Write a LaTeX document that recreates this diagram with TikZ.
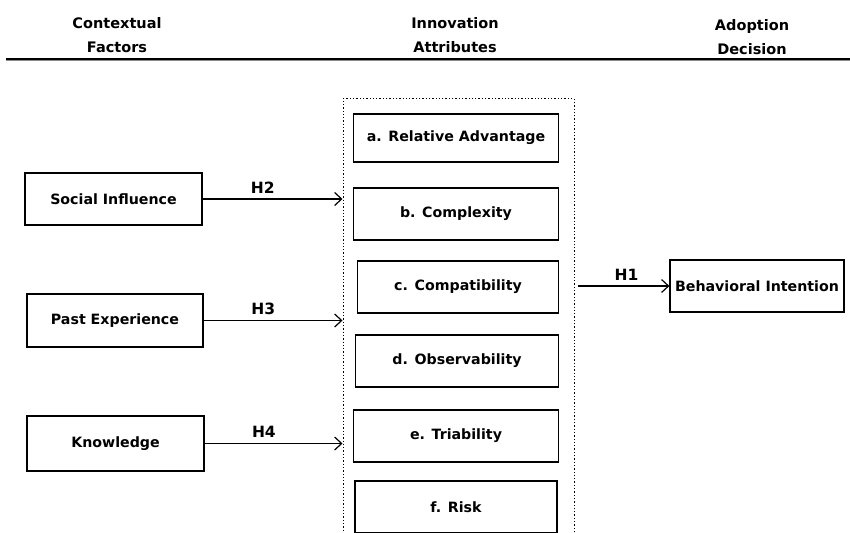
\documentclass[tikz,border=0pt]{standalone}
\usepackage{fontspec}
\setmainfont{DejaVu Sans}
\usetikzlibrary{arrows.meta,positioning}
\begin{document}
\begin{tikzpicture}[x=1pt,y=-1pt,
  box/.style={draw,line width=1.2pt,inner sep=0pt,font=\bfseries\fontsize{14.2}{16}\selectfont},
  hdr/.style={font=\bfseries\fontsize{14.5}{24}\selectfont,align=center},
  lbl/.style={font=\bfseries\fontsize{15.5}{17}\selectfont,inner sep=2pt},
  arr/.style={line width=1.2pt,-{Straight Barb[length=7pt,width=13pt,line width=1.2pt]}}]
\clip (0,0) rectangle (850,532);
\fill[white] (0,0) rectangle (850,532);
% header
\node[hdr] (h1) at (117,35) {Contextual\\Factors};
\node[hdr] (h2) at (455,35) {Innovation\\Attributes};
\node[hdr] (h3) at (752,37) {Adoption\\Decision};
\coordinate (hl) at (6,59);
\coordinate (hr) at (850,59);
\draw[line width=2pt] (hl) -- (hr);
\draw[line width=1pt,black!45] ([yshift=-1.8pt]hl) -- ([yshift=-1.8pt]hr);
% dotted container
\node[draw,dotted,line width=1.3pt,minimum width=231pt,minimum height=460pt,anchor=north west] (grp) at (342.5,98) {};
% attribute boxes
\node[box,minimum width=205pt,minimum height=48pt] (a) at (456,138) {a. Relative Advantage};
\node[box,minimum width=205pt,minimum height=52pt] (b) at (456,214) {b. Complexity};
\node[box,minimum width=201pt,minimum height=52pt] (c) at (458,287) {c. Compatibility};
\node[box,minimum width=203pt,minimum height=52pt] (d) at (457,361) {d. Observability};
\node[box,minimum width=205pt,minimum height=52pt] (e) at (456,436) {e. Triability};
\node[box,minimum width=202pt,minimum height=52pt] (f) at (456,507) {f. Risk};
% left factors
\node[box,minimum width=177pt,minimum height=52pt] (si) at (113.5,199) {Social Influence};
\node[box,minimum width=176pt,minimum height=53pt] (pe) at (115,320.5) {Past Experience};
\node[box,minimum width=177pt,minimum height=55pt] (kn) at (115.5,443.5) {Knowledge};
% outcome
\node[box,minimum width=174pt,minimum height=52pt] (bi) at (757,286) {Behavioral Intention};
% arrows
\draw[arr] (si.east) -- (si.east -| grp.west) node[lbl,pos=0.43,above=3pt] {H2};
\draw[arr] (pe.east) -- (pe.east -| grp.west) node[lbl,pos=0.43,above=3pt] {H3};
\draw[arr] (kn.east) -- (kn.east -| grp.west) node[lbl,pos=0.43,above=3pt] {H4};
\coordinate (h1s) at (578,286);
\draw[arr] (h1s) -- (bi.west) node[lbl,pos=0.53,above=3pt] {H1};
\end{tikzpicture}
\end{document}
